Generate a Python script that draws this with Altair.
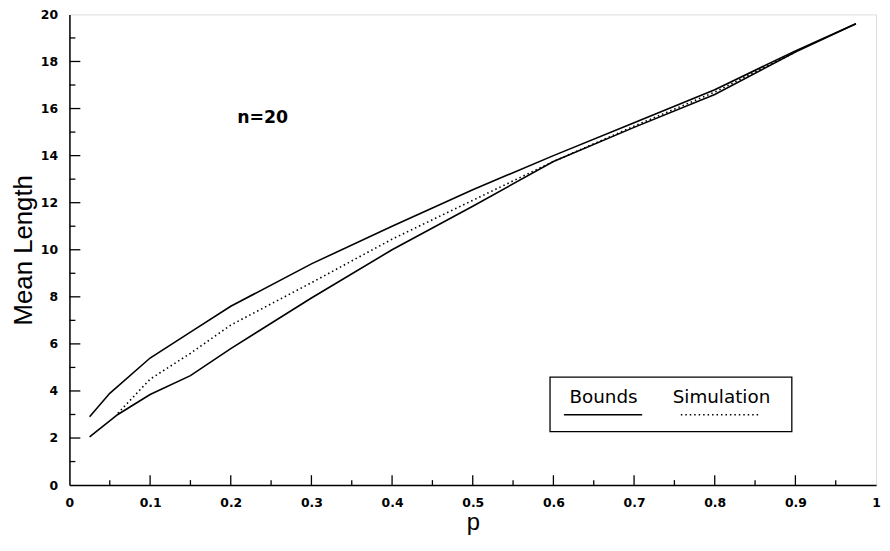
import altair as alt
import pandas as pd

# ---- data ----
p_upper = [0.025, 0.05, 0.1, 0.15, 0.2, 0.3, 0.4, 0.5, 0.6, 0.7, 0.8, 0.9, 0.975]
upper = [2.9, 3.9, 5.4, 6.5, 7.6, 9.4, 11.0, 12.55, 14.0, 15.4, 16.8, 18.45, 19.6]

p_lower = [0.025, 0.06, 0.1, 0.15, 0.2, 0.3, 0.4, 0.5, 0.6, 0.7, 0.8, 0.9, 0.975]
lower = [2.05, 3.0, 3.85, 4.65, 5.8, 7.95, 10.0, 11.85, 13.75, 15.2, 16.6, 18.4, 19.6]

p_sim = [0.06, 0.1, 0.15, 0.2, 0.3, 0.4, 0.5, 0.6, 0.7, 0.8, 0.9]
sim = [3.05, 4.5, 5.6, 6.8, 8.6, 10.45, 12.1, 13.75, 15.25, 16.7, 18.4]

x_major = [0.1, 0.2, 0.3, 0.4, 0.5, 0.6, 0.7, 0.8, 0.9]
x_minor = [0.05, 0.15, 0.25, 0.35, 0.45, 0.55, 0.65, 0.75, 0.85, 0.95]
y_major = [2, 4, 6, 8, 10, 12, 14, 16, 18]
y_minor = [1, 3, 5, 7, 9, 11, 13, 15, 17, 19]
x_labels = [0, 0.1, 0.2, 0.3, 0.4, 0.5, 0.6, 0.7, 0.8, 0.9, 1]
y_labels = [0, 2, 4, 6, 8, 10, 12, 14, 16, 18, 20]

W, H = 814, 475
FONT = "Liberation Sans"
TFONT = "DejaVu Sans"

df = pd.concat([
    pd.DataFrame({"p": p_upper, "v": upper, "s": "upper", "o": range(len(upper))}),
    pd.DataFrame({"p": p_lower, "v": lower, "s": "lower", "o": range(len(lower))}),
])
df_sim = pd.DataFrame({"p": p_sim, "v": sim, "o": range(len(sim))})

xs = alt.Scale(domain=[0, 1], nice=False, zero=False)
ys = alt.Scale(domain=[0, 20], nice=False, zero=False)

xaxis = alt.Axis(values=x_labels, format="~g", ticks=False, grid=False, labelFont=TFONT,
                 labelFontSize=12.5, labelFontWeight="bold", labelColor="black", labelPadding=12,
                 domainColor="black", domainWidth=1.5, title="p", titleFont=FONT,
                 titleFontSize=24, titleFontWeight="normal", titleColor="black",
                 titleY=50, titleBaseline="bottom", labelFlush=False)
yaxis = alt.Axis(values=y_labels, ticks=False, grid=False, labelFont=TFONT, labelFontSize=12.5,
                 labelFontWeight="bold", labelColor="black", labelPadding=12,
                 domainColor="black", domainWidth=1.5, title="Mean Length", titleFont=FONT,
                 titleFontSize=26, titleFontWeight="normal", titleColor="black",
                 titleX=-46, titleY=H / 2, titleAngle=270, titleBaseline="middle",
                 labelFlush=False)

bounds = alt.Chart(df).mark_line(color="black", strokeWidth=1.6).encode(
    x=alt.X("p:Q", scale=xs, axis=xaxis),
    y=alt.Y("v:Q", scale=ys, axis=yaxis),
    detail="s:N",
    order="o:Q",
)

simline = alt.Chart(df_sim).mark_line(color="black", strokeWidth=1.6, strokeDash=[1.5, 3]).encode(
    x=alt.X("p:Q", scale=xs),
    y=alt.Y("v:Q", scale=ys),
    order="o:Q",
)

# inward ticks
xt_major = alt.Chart(pd.DataFrame({"t": x_major})).mark_rule(color="black", strokeWidth=1.3).encode(
    x=alt.X("t:Q", scale=xs), y=alt.value(H), y2=alt.value(H - 10))
xt_minor = alt.Chart(pd.DataFrame({"t": x_minor})).mark_rule(color="black", strokeWidth=1.3).encode(
    x=alt.X("t:Q", scale=xs), y=alt.value(H), y2=alt.value(H - 5))
yt_major = alt.Chart(pd.DataFrame({"t": y_major})).mark_rule(color="black", strokeWidth=1.3).encode(
    y=alt.Y("t:Q", scale=ys), x=alt.value(0), x2=alt.value(11))
yt_minor = alt.Chart(pd.DataFrame({"t": y_minor})).mark_rule(color="black", strokeWidth=1.3).encode(
    y=alt.Y("t:Q", scale=ys), x=alt.value(0), x2=alt.value(6))

# annotation
ntext = alt.Chart(pd.DataFrame({"t": ["n=20"]})).mark_text(
    font=TFONT, fontSize=17.5, fontWeight="bold", color="black", align="center", baseline="middle"
).encode(text="t:N", x=alt.value(195), y=alt.value(105))

# legend box
lbox = alt.Chart(pd.DataFrame({"a": [0]})).mark_rect(
    fill="white", stroke="black", strokeWidth=1.3
).encode(x=alt.value(485), x2=alt.value(729), y=alt.value(366), y2=alt.value(421))
ltext = alt.Chart(pd.DataFrame({"t": ["Bounds", "Simulation"], "x": [539, 658]})).mark_text(
    font=TFONT, fontSize=18.5, color="black", align="center", baseline="middle"
).encode(text="t:N", x=alt.X("x:Q", scale=None), y=alt.value(386))
lsolid = alt.Chart(pd.DataFrame({"a": [0]})).mark_rule(color="black", strokeWidth=1.6).encode(
    x=alt.value(499), x2=alt.value(578), y=alt.value(404))
ldot = alt.Chart(pd.DataFrame({"a": [0]})).mark_rule(color="black", strokeWidth=1.4, strokeDash=[1.5, 3]).encode(
    x=alt.value(617), x2=alt.value(697), y=alt.value(404))

chart = alt.layer(
    bounds, simline, xt_major, xt_minor, yt_major, yt_minor, ntext, lbox, ltext, lsolid, ldot
).properties(
    width=W, height=H,
    autosize=alt.AutoSizeParams(type="none"),
    padding={"left": 62, "top": 4, "right": 6, "bottom": 60},
).configure_view(stroke="black", strokeWidth=1.3).configure(background="white")

chart.save("out.html", embed_options={"renderer": "svg", "actions": False})
